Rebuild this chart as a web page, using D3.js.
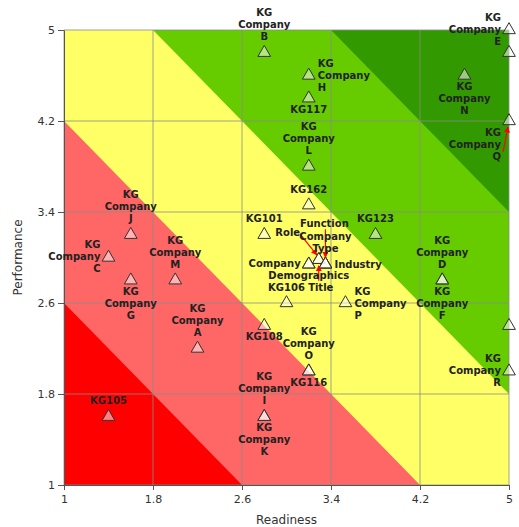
<!DOCTYPE html>
<html>
<head>
<meta charset="utf-8">
<script src="https://cdn.jsdelivr.net/npm/d3@7"></script>
<style>
  html, body { margin: 0; padding: 0; background: #fff; }
  svg { display: block; }
</style>
</head>
<body>
<svg id="chart" width="519" height="527"></svg>
<script>
// ---------------- data ----------------
const names = [
  "KG Company A", "KG Company B", "KG Company C", "KG Company D", "KG Company E",
  "KG Company F", "KG Company G", "KG Company H", "KG Company I", "KG Company J",
  "KG Company K", "KG Company L", "KG Company M", "KG Company N", "KG Company O",
  "KG Company P", "KG Company Q", "KG Company R",
  "KG101", "KG105", "KG106", "KG108", "KG116", "KG117", "KG123", "KG162",
  "Company", "Demographics", "Role", "Title", "Function", "Company Type", "Industry",
  "", ""
];
const readiness = [
  2.2, 2.8, 1.4, 4.4, 5.0,
  4.4, 1.6, 3.2, 2.8, 1.6,
  2.8, 3.2, 2.0, 4.6, 3.2,
  3.53, 5.0, 5.0,
  2.8, 1.4, 3.0, 2.8, 3.2, 3.2, 3.8, 3.2,
  3.2, 3.2, 3.29, 3.29, 3.35, 3.35, 3.35,
  5.0, 5.0
];
const performance = [
  2.2, 4.8, 3.0, 2.8, 5.0,
  2.8, 2.8, 4.6, 1.6, 3.2,
  1.6, 3.8, 2.8, 4.6, 2.0,
  2.6, 4.2, 2.0,
  3.2, 1.6, 2.6, 2.4, 2.0, 4.4, 3.2, 3.46,
  2.94, 2.94, 2.98, 2.98, 2.94, 2.94, 2.94,
  4.8, 2.4
];
const tickValues = [1, 1.8, 2.6, 3.4, 4.2, 5];
const tickLabels = ["1", "1.8", "2.6", "3.4", "4.2", "5"];
// zone thresholds on readiness + performance
const zoneThresholds = [3.6, 5.2, 6.8, 8.4];
const zoneColors = ["#ff0000", "#ff6666", "#ffff66", "#66cc00", "#339900"];
const xTitle = "Readiness";
const yTitle = "Performance";

// ---------------- layout (label placement) ----------------
const labelPlacement = [
  "above", "above", "left", "above", "left",
  "below", "below", "right", "above", "above",
  "below", "above", "above", "below", "above",
  "right", "callout", "left",
  "above", "above", "above", "below", "below", "below", "above", "above",
  "left", "below", "callout", "callout", "callout", "above", "right",
  "none", "none"
];
const callouts = {
  "KG Company Q": { anchor: "end", dx: -8, dy: 11, arrow: [-6, 31, -1, 6] },
  "Role": { anchor: "middle", dx: -31, dy: -27, arrow: [-18, -25, -2, -5] },
  "Function": { anchor: "middle", dx: -1, dy: -41, arrow: [0, -35, 0, -7] },
  "Title": { anchor: "middle", dx: 2, dy: 28, arrow: [0, 21, 0, 6] }
};

// ---------------- chart ----------------
const svg = d3.select("#chart");
const margin = { left: 64, top: 30, right: 10, bottom: 42 };
const W = 519, H = 527;
const x = d3.scaleLinear().domain([1, 5]).range([64, 509]);
const y = d3.scaleLinear().domain([1, 5]).range([485, 30]);

const defs = svg.append("defs");
defs.append("clipPath").attr("id", "plotClip")
  .append("rect").attr("x", x(1)).attr("y", y(5))
  .attr("width", x(5) - x(1)).attr("height", y(1) - y(5));
defs.append("marker").attr("id", "arrowHead")
  .attr("viewBox", "0 0 10 10").attr("refX", 9).attr("refY", 5)
  .attr("markerWidth", 5).attr("markerHeight", 5).attr("orient", "auto")
  .append("path").attr("d", "M0,0L10,5L0,10Z").attr("fill", "#ff0000");

const bg = svg.append("g").attr("clip-path", "url(#plotClip)");
bg.append("rect").attr("x", x(1)).attr("y", y(5))
  .attr("width", x(5) - x(1)).attr("height", y(1) - y(5))
  .attr("fill", zoneColors[0]);
zoneThresholds.forEach((t, i) => {
  const pts = [[t - 10, 10], [10, t - 10], [10, 10]];
  bg.append("polygon")
    .attr("points", pts.map(p => x(p[0]) + "," + y(p[1])).join(" "))
    .attr("fill", zoneColors[i + 1]);
});

// grid
const grid = svg.append("g");
tickValues.forEach(v => {
  grid.append("line").attr("x1", x(v)).attr("x2", x(v)).attr("y1", y(1)).attr("y2", y(5))
    .attr("stroke", "#8a8a8a").attr("stroke-opacity", 0.8).attr("stroke-width", 1);
  grid.append("line").attr("y1", y(v)).attr("y2", y(v)).attr("x1", x(1)).attr("x2", x(5))
    .attr("stroke", "#8a8a8a").attr("stroke-opacity", 0.8).attr("stroke-width", 1);
});

// axes
const fmt = v => tickLabels[tickValues.indexOf(v)];
const xAxis = svg.append("g").attr("transform", `translate(0,${y(1)})`)
  .call(d3.axisBottom(x).tickValues(tickValues).tickFormat(fmt).tickSize(5).tickSizeOuter(0).tickPadding(5));
const yAxis = svg.append("g").attr("transform", `translate(${x(1)},0)`)
  .call(d3.axisLeft(y).tickValues(tickValues).tickFormat(fmt).tickSize(6).tickSizeOuter(0).tickPadding(3));
[xAxis, yAxis].forEach(a => {
  a.selectAll("path.domain").attr("stroke", "#555");
  a.selectAll(".tick line").attr("stroke", "#555");
  a.selectAll("text").attr("font-family", "DejaVu Sans, Verdana, sans-serif")
    .attr("font-size", 11).attr("fill", "#333");
});

svg.append("text").attr("x", (x(1) + x(5)) / 2).attr("y", 524)
  .attr("text-anchor", "middle").attr("font-family", "DejaVu Sans, Verdana, sans-serif")
  .attr("font-size", 12).attr("fill", "#333").text(xTitle);
svg.append("text").attr("transform", `translate(22,${(y(1) + y(5)) / 2}) rotate(-90)`)
  .attr("text-anchor", "middle").attr("font-family", "DejaVu Sans, Verdana, sans-serif")
  .attr("font-size", 12).attr("fill", "#333").text(yTitle);

// points
const data = names.map((n, i) => ({ name: n, rx: readiness[i], py: performance[i], place: labelPlacement[i] }));
const tri = d3.symbol().type(d3.symbolTriangle).size(70);
svg.append("g").selectAll("path").data(data).join("path")
  .attr("d", tri)
  .attr("transform", d => `translate(${x(d.rx)},${y(d.py)})`)
  .attr("fill", "rgba(255,255,255,0.5)")
  .attr("stroke", "#333").attr("stroke-width", 1);

// labels
const labels = svg.append("g")
  .attr("font-family", "DejaVu Sans, Verdana, sans-serif")
  .attr("font-size", 10).attr("font-weight", "bold").attr("fill", "#222");
const LH = 12, BASE = 3.6;
data.forEach(d => {
  if (d.place === "none" || !d.name) return;
  const cx = x(d.rx), cy = y(d.py);
  const lines = d.name.split(" ");
  const n = lines.length;
  let anchor = "middle", tx = cx, centers = [];
  if (d.place === "above") {
    centers = lines.map((_, i) => cy - 16 - LH * (n - 1 - i));
  } else if (d.place === "below") {
    centers = lines.map((_, i) => cy + 11 + LH * i);
  } else if (d.place === "left") {
    anchor = "end"; tx = cx - 8;
    centers = lines.map((_, i) => cy - 1 + LH * (i - (n - 1) / 2));
  } else if (d.place === "right") {
    anchor = "start"; tx = cx + 9;
    centers = lines.map((_, i) => cy + LH * (i - (n - 1) / 2));
  } else if (d.place === "callout") {
    const c = callouts[d.name];
    anchor = c.anchor; tx = cx + c.dx;
    centers = lines.map((_, i) => cy + c.dy + LH * i);
    svg.append("line")
      .attr("x1", cx + c.arrow[0]).attr("y1", cy + c.arrow[1])
      .attr("x2", cx + c.arrow[2]).attr("y2", cy + c.arrow[3])
      .attr("stroke", "#ff0000").attr("stroke-width", 1.2)
      .attr("marker-end", "url(#arrowHead)");
  }
  lines.forEach((ln, i) => {
    labels.append("text").attr("x", tx).attr("y", centers[i] + BASE)
      .attr("text-anchor", anchor).text(ln);
  });
});
labels.raise();
</script>
</body>
</html>
